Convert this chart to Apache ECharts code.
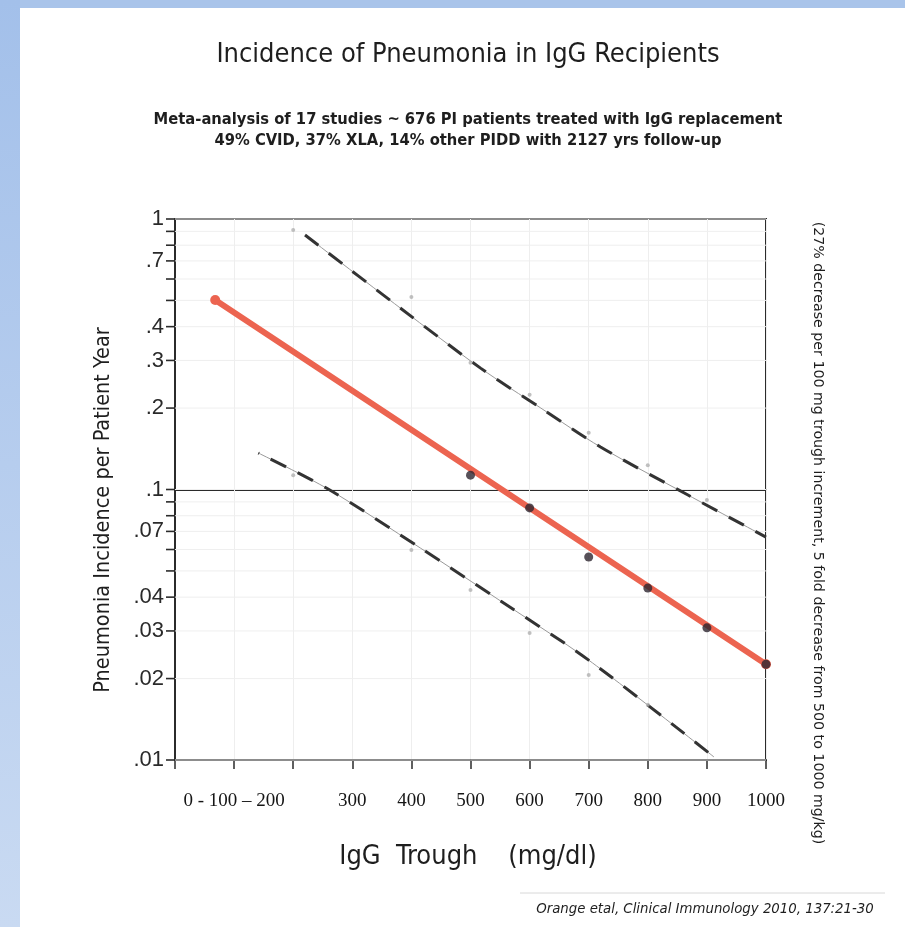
<!DOCTYPE html>
<html>
<head>
<meta charset="utf-8">
<script src="https://cdn.jsdelivr.net/npm/echarts@6/dist/echarts.min.js"></script>
<style>
html,body{margin:0;padding:0;background:#fff;}
#chart{width:905px;height:927px;}
</style>
</head>
<body>
<div id="chart"></div>
<script>
// ---- data ----
const xTickValues = [0, 100, 200, 300, 400, 500, 600, 700, 800, 900, 1000];
const xTickLabels = ['', '0 - 100 \u2013 200', '', '300', '400', '500', '600', '700', '800', '900', '1000'];

const yTickValues = [1, 0.9, 0.8, 0.7, 0.6, 0.5, 0.4, 0.3, 0.2, 0.1, 0.09, 0.08, 0.07, 0.06, 0.05, 0.04, 0.03, 0.02, 0.01];
const yTickLabels = ['1', '', '', '.7', '', '', '.4', '.3', '.2', '.1', '', '', '.07', '', '', '.04', '.03', '.02', '.01'];

// pooled regression line (red) and its points
const redLineX = [68, 1000];
const redLineY = [0.502, 0.0226];
const redDotsX = [500, 600, 700, 800, 900, 1000];
const redDotsY = [0.113, 0.0855, 0.0563, 0.0432, 0.0308, 0.0226];

// upper dashed bound
const upperX = [220, 381, 517, 619, 720, 868, 1000];
const upperY = [0.873, 0.469, 0.281, 0.200, 0.1436, 0.0954, 0.0667];
const upperMarksX = [200, 400, 500, 600, 700, 800, 900];
const upperMarksY = [0.911, 0.515, 0.294, 0.224, 0.162, 0.123, 0.0914];

// lower dashed bound
const lowerX = [141, 259, 415, 551, 700, 912];
const lowerY = [0.1364, 0.1004, 0.0608, 0.0387, 0.0234, 0.01026];
const lowerMarksX = [200, 400, 500, 600, 700, 800];
const lowerMarksY = [0.113, 0.0597, 0.0425, 0.0295, 0.0206, 0.0160];

const zip = (xs, ys) => xs.map((x, i) => [x, ys[i]]);

const FONT = '"DejaVu Sans Condensed", "DejaVu Sans", sans-serif';
const INK = '#2b2b2b';

const chart = echarts.init(document.getElementById('chart'), null, {renderer: 'canvas'});

function centerText(x, y, text, font, extra) {
  return Object.assign({
    type: 'text', x: x, y: y,
    style: {text: text, font: font, fill: '#1e1e1e',
      align: 'center', verticalAlign: 'middle', textAlign: 'center', textVerticalAlign: 'middle'}
  }, extra || {});
}

const option = {
  animation: false,
  backgroundColor: '#ffffff',
  grid: {
    left: 175, right: 139, top: 219, bottom: 167,
    show: true, borderColor: INK, borderWidth: 2, backgroundColor: 'transparent'
  },
  xAxis: {
    type: 'value', min: 0, max: 1000, interval: 100,
    axisLine: {show: true, onZero: false, lineStyle: {color: INK, width: 2}},
    axisTick: {show: true, inside: false, length: 9, lineStyle: {color: INK, width: 1.5}},
    splitLine: {show: true, lineStyle: {color: '#eeeeee', width: 1}},
    axisLabel: {
      margin: 32, color: '#151515', fontSize: 19,
      fontFamily: '"Liberation Serif", "DejaVu Serif", serif',
      formatter: function (v) {
        const i = xTickValues.indexOf(Math.round(v));
        return i >= 0 ? xTickLabels[i] : '';
      }
    }
  },
  yAxis: {
    type: 'log', logBase: 10, min: 0.01, max: 1,
    axisLine: {show: true, lineStyle: {color: INK, width: 2}},
    axisTick: {show: false},
    axisLabel: {show: false},
    splitLine: {show: true, lineStyle: {color: INK, width: 2}}
  },
  graphic: [
    {type: 'rect', z: 100, shape: {x: 0, y: 0, width: 905, height: 8},
     style: {fill: '#a9c4ea'}},
    {type: 'rect', z: 100, shape: {x: 0, y: 0, width: 20, height: 927},
     style: {fill: new echarts.graphic.LinearGradient(0, 0, 0, 1, [
       {offset: 0, color: '#a3c0ea'}, {offset: 1, color: '#c9daf2'}])}},
    centerText(468, 55, 'Incidence of Pneumonia in IgG Recipients', '27px ' + FONT),
    centerText(468, 120, 'Meta-analysis of 17 studies ~ 676 PI patients treated with IgG replacement', 'bold 16.4px ' + FONT),
    centerText(468, 141, '49% CVID, 37% XLA, 14% other PIDD with 2127 yrs follow-up', 'bold 16.4px ' + FONT),
    centerText(103, 510, 'Pneumonia Incidence per Patient Year', '21.5px ' + FONT, {rotation: Math.PI / 2}),
    centerText(468, 857, 'IgG  Trough    (mg/dl)', '27px ' + FONT),
    centerText(818, 533, '(27% decrease per 100 mg trough increment, 5 fold decrease from 500 to 1000 mg/kg)', '14.2px "DejaVu Sans", sans-serif', {rotation: -Math.PI / 2}),
    {type: 'line', shape: {x1: 520, y1: 893, x2: 885, y2: 893}, style: {stroke: '#d8d8d8', lineWidth: 1}},
    centerText(705, 909, 'Orange etal, Clinical Immunology 2010, 137:21-30', 'italic 14.8px ' + FONT)
  ],
  series: [
    {
      type: 'custom', name: 'yticks', clip: false, silent: true, z: 1,
      data: yTickValues.map(v => [0, v]),
      renderItem: function (params, api) {
        const v = api.value(1);
        const p = api.coord([0, v]);
        const cs = params.coordSys;
        const lbl = yTickLabels[params.dataIndex];
        return {
          type: 'group',
          children: [
            {type: 'line', shape: {x1: p[0], y1: p[1], x2: cs.x + cs.width, y2: p[1]},
             style: {stroke: '#efefef', lineWidth: 1}, z2: 0},
            {type: 'line', shape: {x1: p[0] - 9, y1: p[1], x2: p[0], y2: p[1]},
             style: {stroke: INK, lineWidth: 1.6}},
            {type: 'text', x: p[0] - 11, y: p[1],
             style: {text: lbl, fill: '#2a2a2a', font: '22px "Liberation Sans", sans-serif',
               align: 'right', verticalAlign: 'middle', textAlign: 'right', textVerticalAlign: 'middle'}}
          ]
        };
      }
    },
    {
      type: 'line', name: 'upper thin', data: zip(upperX, upperY), smooth: 0.3,
      showSymbol: false, lineStyle: {color: '#9a9a9a', width: 1}, z: 3
    },
    {
      type: 'line', name: 'upper dashed', data: zip(upperX, upperY), smooth: 0.3,
      showSymbol: false, lineStyle: {color: '#333', width: 3, type: [17, 13]}, z: 4
    },
    {
      type: 'line', name: 'lower thin', data: zip(lowerX, lowerY), smooth: 0.3,
      showSymbol: false, lineStyle: {color: '#9a9a9a', width: 1}, z: 3
    },
    {
      type: 'line', name: 'lower dashed', data: zip(lowerX, lowerY), smooth: 0.3,
      showSymbol: false, lineStyle: {color: '#333', width: 3, type: [17, 13], dashOffset: -14}, z: 4
    },
    {
      type: 'scatter', name: 'upper studies', data: zip(upperMarksX, upperMarksY),
      symbol: 'circle', symbolSize: 4, itemStyle: {color: '#b0b0b0'}, z: 5
    },
    {
      type: 'scatter', name: 'lower studies', data: zip(lowerMarksX, lowerMarksY),
      symbol: 'circle', symbolSize: 4, itemStyle: {color: '#b0b0b0'}, z: 5
    },
    {
      type: 'line', name: 'pooled', data: zip(redLineX, redLineY),
      symbol: 'circle', symbolSize: 10, showSymbol: true,
      itemStyle: {color: '#ec6450'},
      lineStyle: {color: '#ec6450', width: 6, cap: 'round'}, z: 6
    },
    {
      type: 'scatter', name: 'pooled points', data: zip(redDotsX, redDotsY),
      symbol: 'circle', symbolSize: 9, itemStyle: {color: '#2d2530'}, z: 7
    }
  ]
};
chart.setOption(option);
</script>
</body>
</html>
